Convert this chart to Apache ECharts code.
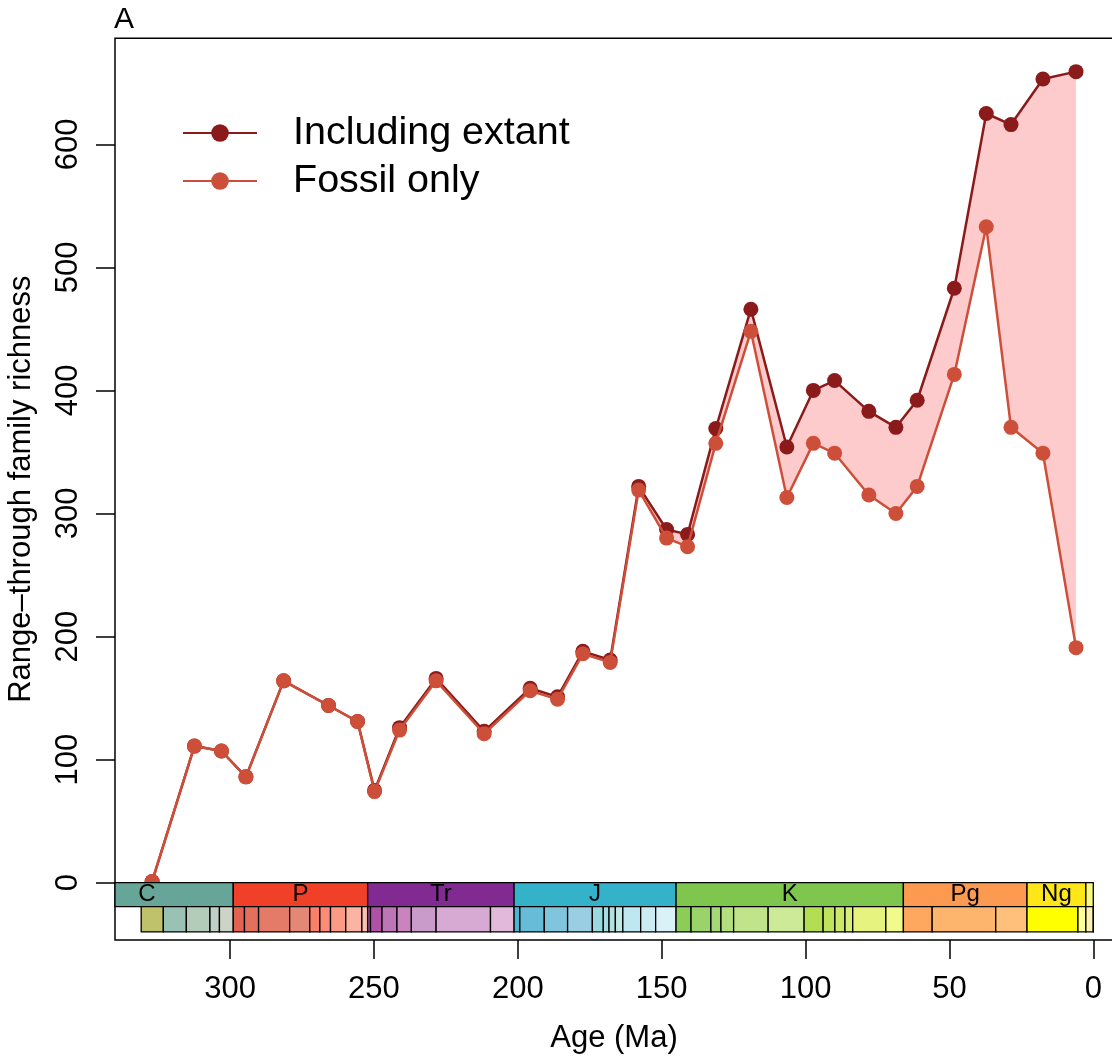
<!DOCTYPE html>
<html>
<head>
<meta charset="utf-8">
<title>Range-through family richness</title>
<script src="https://cdn.jsdelivr.net/npm/echarts@6/dist/echarts.min.js"></script>
<style>
  html, body { margin: 0; padding: 0; background: #ffffff; }
  #chart { width: 1112px; height: 1056px; }
</style>
</head>
<body>
<div id="chart"></div>
<script>
// Bin midpoints (Ma) and range-through family counts
const ages = [327.1, 312.4, 303.0, 294.5, 281.4, 265.8, 255.7, 249.8, 241.1, 228.4,
              211.7, 195.7, 186.2, 177.4, 167.9, 158.0, 148.3, 141.0, 131.2, 119.0,
              106.5, 97.3, 89.9, 78.0, 68.6, 61.2, 48.3, 37.2, 28.6, 17.5, 6.0];
const extant = [1, 111, 107, 86, 164, 144, 131, 75, 126, 166,
                123, 158, 151, 188, 181, 322, 287, 283, 369, 466,
                354, 400, 408, 383, 370, 392, 483, 625, 616, 653, 659];
const fossil = [1, 111, 107, 86, 164, 144, 131, 74, 124, 164,
                121, 156, 149, 186, 179, 319, 280, 273, 357, 448,
                313, 357, 349, 315, 300, 322, 413, 533, 370, 349, 191];

const xTicks = [300, 250, 200, 150, 100, 50, 0];
const yTicks = [0, 100, 200, 300, 400, 500, 600];

// Geological periods: labels, boundaries (Ma, oldest first), colours
const periodLabels = ['C', 'P', 'Tr', 'J', 'K', 'Pg', 'Ng', 'Q'];
const periodBounds = [358.9, 298.9, 252.2, 201.3, 145.0, 66.0, 23.03, 2.58, 0];
const periodColors = ['#67A599', '#F04028', '#812B92', '#34B2C9', '#7FC64E', '#FD9A52', '#FFE619', '#F9F97F'];

// Stages / epochs shown in the lower band
const stageBounds = [330.9, 323.2, 315.2, 307.0, 303.7, 298.9,
                     295.0, 290.1, 279.3, 272.3, 268.8, 265.1, 259.8, 254.2, 252.2,
                     251.2, 247.2, 242.0, 237.0, 228.4, 209.5, 201.3,
                     199.3, 190.8, 182.7, 174.1, 170.3, 168.3, 166.1, 163.5, 157.3, 152.1, 145.0,
                     139.8, 132.9, 129.4, 125.0, 113.0, 100.5, 93.9, 89.8, 86.3, 83.6, 72.1, 66.0,
                     56.0, 33.9, 23.03, 5.333, 2.58, 0.0117, 0];
const stageColors = ['#BFC26B', '#99C2B5', '#B3CBB9', '#BFD0C5', '#CCD4C7',
                     '#E36350', '#E36F5C', '#E37B68', '#E38776', '#FB8069', '#FB8D76', '#FB9A85', '#FCB4A2', '#FCC0B2',
                     '#A4469F', '#B051A5', '#BC75B7', '#C983BF', '#C99BCB', '#D6AAD3', '#E3B9DB',
                     '#4EB3D3', '#67BCD8', '#80C5DD', '#99CEE3', '#9AD9DD', '#A6DDE0', '#B3E2E3', '#BFE7E5', '#BFE7F1', '#CCECF4', '#D9F1F7',
                     '#8CCD57', '#99D36A', '#A6D975', '#B3DF7F', '#BFE48A', '#CCEA97', '#B3DE53', '#BFE35D', '#CCE968', '#D9EF74', '#E6F47F', '#F2FA8C',
                     '#FDA75F', '#FDB46C', '#FEC07A', '#FFFF00', '#FFFF99', '#FFF2AE', '#FEF2E0'];

const FONT = "'Liberation Sans', Arial, Helvetica, sans-serif";
const DARK = '#8B1A1A';
const LIGHT = '#CD4F39';
const BAND = '#FDCBCB';
// timescale band edges in richness units (below zero)
const ROW_TOP = 0, ROW_MID = -19.5, ROW_BOTTOM = -40;

function clipRect(shape, params) {
  return echarts.graphic.clipRectByRect(shape, {
    x: params.coordSys.x, y: params.coordSys.y,
    width: params.coordSys.width, height: params.coordSys.height
  });
}

const periodData = periodLabels.map((lab, i) => [periodBounds[i], periodBounds[i + 1], i]);
const stageData = stageColors.map((c, i) => [stageBounds[i], stageBounds[i + 1], i]);

const chart = echarts.init(document.getElementById('chart'), null, { renderer: 'canvas' });

chart.setOption({
  animation: false,
  backgroundColor: '#ffffff',
  textStyle: { fontFamily: FONT },
  title: {
    text: 'A', left: 114, top: 5, padding: 0,
    textStyle: { fontSize: 30, fontWeight: 'normal', color: '#000', fontFamily: FONT }
  },
  legend: {
    left: 182, top: 113, orient: 'vertical', padding: 0,
    itemWidth: 74, itemHeight: 22, itemGap: 8, selectedMode: false,
    textStyle: { fontSize: 39.5, color: '#000', fontFamily: FONT, padding: [0, 0, 0, 31] },
    data: ['Including extant', 'Fossil only']
  },
  grid: {
    left: 115, top: 38.3, width: 998, height: 901.7,
    outerBoundsMode: 'none', containLabel: false,
    show: true, borderColor: '#000', borderWidth: 1.5, backgroundColor: 'transparent'
  },
  xAxis: {
    type: 'value', inverse: true, min: -6.85, max: 340,
    name: 'Age (Ma)', nameLocation: 'middle', nameGap: 83,
    nameTextStyle: { fontSize: 31, color: '#000', fontFamily: FONT },
    axisLine: { show: false, onZero: false },
    splitLine: { show: false },
    axisTick: { show: true, length: 19, customValues: xTicks, lineStyle: { color: '#000', width: 1.5 } },
    axisLabel: { customValues: xTicks, fontSize: 31, color: '#000', margin: 34, fontFamily: FONT }
  },
  yAxis: {
    type: 'value', min: -46.56, max: 686.1,
    name: 'Range\u2013through family richness', nameLocation: 'middle', nameGap: 78, nameRotate: 90,
    nameTextStyle: { fontSize: 31, color: '#000', fontFamily: FONT },
    axisLine: { show: false, onZero: false },
    splitLine: { show: false },
    axisTick: { show: true, length: 19, customValues: yTicks, lineStyle: { color: '#000', width: 1.5 } },
    axisLabel: { customValues: yTicks, fontSize: 31, color: '#000', rotate: 90, margin: 31, fontFamily: FONT }
  },
  series: [
    {
      // shaded gap between the two curves
      type: 'custom', name: 'gap', silent: true, z: 1,
      data: [[ages[0], extant[0]]],
      renderItem: function (params, api) {
        const pts = [];
        for (let i = 0; i < ages.length; i++) pts.push(api.coord([ages[i], extant[i]]));
        for (let i = ages.length - 1; i >= 0; i--) pts.push(api.coord([ages[i], fossil[i]]));
        return { type: 'polygon', shape: { points: pts }, style: { fill: BAND } };
      }
    },
    {
      type: 'line', name: 'Including extant', z: 3,
      data: ages.map((a, i) => [a, extant[i]]),
      symbol: 'circle', symbolSize: 15,
      lineStyle: { color: DARK, width: 2.5 },
      itemStyle: { color: DARK, borderWidth: 0 }
    },
    {
      type: 'line', name: 'Fossil only', z: 4,
      data: ages.map((a, i) => [a, fossil[i]]),
      symbol: 'circle', symbolSize: 15,
      lineStyle: { color: LIGHT, width: 2.5 },
      itemStyle: { color: LIGHT, borderWidth: 0 }
    },
    {
      // period band with labels
      type: 'custom', name: 'periods', silent: true, z: 6,
      data: periodData,
      renderItem: function (params, api) {
        const i = api.value(2);
        const p0 = api.coord([api.value(0), ROW_TOP]);
        const p1 = api.coord([api.value(1), ROW_MID]);
        const full = { x: p0[0], y: p0[1], width: p1[0] - p0[0], height: p1[1] - p0[1] };
        const shape = clipRect(full, params);
        if (!shape) return;
        const children = [{
          type: 'rect', shape: shape,
          style: { fill: periodColors[i], stroke: '#000', lineWidth: 1.3 }
        }];
        if (full.width > 30) {
          children.push({
            type: 'text', x: full.x + full.width / 2, y: full.y + full.height / 2,
            style: { text: periodLabels[i], textAlign: 'center', textVerticalAlign: 'middle',
                     fontSize: 24, fill: '#000', fontFamily: FONT }
          });
        }
        return { type: 'group', children: children };
      }
    },
    {
      // stage / epoch band
      type: 'custom', name: 'stages', silent: true, z: 6,
      data: stageData,
      renderItem: function (params, api) {
        const i = api.value(2);
        const p0 = api.coord([api.value(0), ROW_MID]);
        const p1 = api.coord([api.value(1), ROW_BOTTOM]);
        const shape = clipRect({ x: p0[0], y: p0[1], width: p1[0] - p0[0], height: p1[1] - p0[1] }, params);
        if (!shape) return;
        return {
          type: 'rect', shape: shape,
          style: { fill: stageColors[i], stroke: '#000', lineWidth: 1.3 }
        };
      }
    }
  ]
});
</script>
</body>
</html>
